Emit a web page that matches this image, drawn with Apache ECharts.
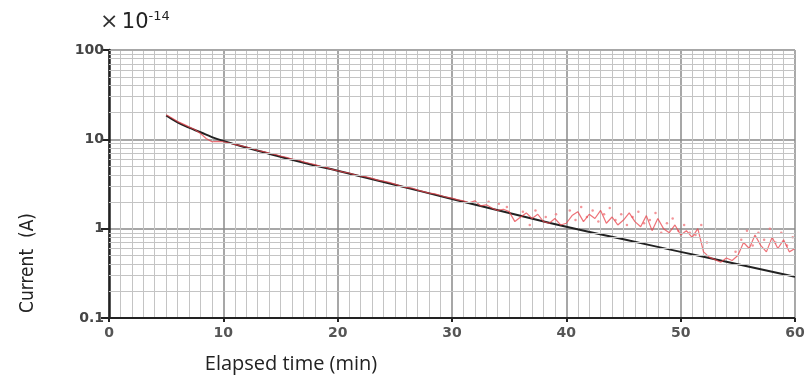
<!DOCTYPE html>
<html><head><meta charset="utf-8">
<script src="https://cdn.jsdelivr.net/npm/echarts@6/dist/echarts.min.js"></script>
<style>html,body{margin:0;padding:0;background:#fff}#c{width:809px;height:376px}</style>
</head><body><div id="c"></div>
<script>
// Measured current (x1e-14 A) vs elapsed time (min)
const measTime = [5,5.5,6,6.5,7,7.5,8,8.5,9,9.5,10,10.5,11,11.5,12,12.5,13,13.5,14,14.5,15,15.5,16,16.5,17,17.5,18,18.5,19,19.5,20,20.5,21,21.5,22,22.5,23,23.5,24,24.5,25,25.5,26,26.5,27,27.5,28,28.5,29,29.5,30,30.5,31,31.5,32,32.5,33,33.5,34,34.5,35,35.5,36,36.5,37,37.5,38,38.5,39,39.5,40,40.5,41,41.5,42,42.5,43,43.5,44,44.5,45,45.5,46,46.5,47,47.5,48,48.5,49,49.5,50,50.5,51,51.5,52,52.5,53,53.5,54,54.5,55,55.5,56,56.5,57,57.5,58,58.5,59,59.5,60];
const measCurrent = [18.8,17.3,15.8,14.8,13.8,12.9,11.6,10.2,9.4,9.5,9.4,9.1,8.8,8.5,8.2,7.9,7.5,7.3,7.0,6.8,6.5,6.3,6.0,5.9,5.6,5.4,5.2,5.0,4.85,4.6,4.45,4.3,4.2,4.0,3.9,3.8,3.65,3.5,3.4,3.3,3.15,3.0,2.9,2.85,2.7,2.6,2.5,2.45,2.35,2.25,2.2,2.1,2.05,1.95,2.05,1.8,1.85,1.7,1.6,1.65,1.55,1.2,1.35,1.5,1.3,1.45,1.2,1.15,1.3,1.1,1.15,1.4,1.55,1.2,1.45,1.3,1.6,1.15,1.35,1.1,1.25,1.5,1.2,1.05,1.4,0.95,1.3,1.0,0.9,1.1,0.85,0.95,0.8,1.0,0.55,0.48,0.45,0.42,0.47,0.44,0.5,0.7,0.6,0.85,0.65,0.55,0.8,0.6,0.75,0.55,0.6];
// Extra scattered noisy samples
const scatTime = [33.2,34.1,34.8,36.2,36.8,37.3,38.2,39.1,40.3,40.8,41.3,41.8,42.3,42.8,43.3,43.8,44.3,44.8,45.3,45.8,46.3,46.8,47.3,47.8,48.3,48.8,49.3,49.8,50.3,50.8,51.3,51.8,52.3,54.8,55.3,55.8,56.3,56.8,57.3,57.8,58.3,58.8,59.3,59.8];
const scatCurrent = [2.0,1.9,1.75,1.55,1.1,1.6,1.35,1.45,1.6,1.25,1.75,1.35,1.6,1.2,1.45,1.7,1.25,1.45,1.1,1.35,1.55,1.15,1.25,1.5,0.9,1.15,1.3,0.95,1.1,0.9,0.85,1.1,0.7,0.55,0.75,0.95,0.65,0.9,0.75,1.0,0.7,0.9,0.65,0.8];
// Fitted curve
const fitTime = [5,6,7,8,9,10,12,14,16,18,20,25,30,35,40,45,50,55,60];
const fitCurrent = [18.5,15.5,13.5,12,10.6,9.6,8.1,6.9,5.9,5.1,4.45,3.1,2.15,1.5,1.05,0.76,0.55,0.4,0.29];
// Axis ticks
const xTicks = [0,10,20,30,40,50,60];
const yTicks = [0.1,1,10,100];
const yMinorLines = [0.2,0.3,0.4,0.5,0.6,0.7,0.8,0.9,2,3,4,5,6,7,8,9,20,30,40,50,60,70,80,90];

const chart = echarts.init(document.getElementById('c'));
const zip = (a,b)=>a.map((v,i)=>[v,b[i]]);
chart.setOption({
  animation:false,
  grid:{left:109,right:14,top:50,bottom:58},
  xAxis:{type:'value',min:0,max:60,interval:10,
    axisLine:{show:true,onZero:false,lineStyle:{color:'#222',width:2}},
    axisTick:{show:true,length:4,lineStyle:{color:'#222',width:2}},
    axisLabel:{color:'#555',fontFamily:'DejaVu Sans',fontWeight:'bold',fontSize:14,margin:8,
      formatter:v=>xTicks.includes(v)?String(v):''},
    splitLine:{show:true,lineStyle:{color:'#8a8a8a',width:1.5}},
    minorTick:{show:false,splitNumber:10},
    minorSplitLine:{show:true,lineStyle:{color:'#c4c4c4',width:1}}
  },
  yAxis:{type:'log',logBase:10,min:0.1,max:100,
    axisLine:{show:true,onZero:false,lineStyle:{color:'#222',width:2.5}},
    axisTick:{show:true,length:8,lineStyle:{color:'#222',width:2}},
    axisLabel:{color:'#444',fontFamily:'DejaVu Sans',fontWeight:'bold',fontSize:14,margin:5,
      formatter:v=>{const t=yTicks.find(x=>Math.abs(x-v)/x<1e-6);return t===undefined?'':String(t);}},
    splitLine:{show:true,lineStyle:{color:'#8a8a8a',width:1.5}}
  },
  series:[
    {type:'line',data:[],silent:true,
      markLine:{silent:true,symbol:'none',label:{show:false},
        lineStyle:{color:'#c4c4c4',width:1,type:'solid'},
        data:yMinorLines.map(v=>({yAxis:v}))}},
    {type:'line',data:[],silent:true,
      markLine:{silent:true,symbol:'none',label:{show:false},
        lineStyle:{color:'#aaaaaa',width:1,type:'solid'},
        data:[{xAxis:60},{yAxis:100}]}},
    {name:'scatter',type:'scatter',data:zip(scatTime,scatCurrent),symbolSize:2.5,
      itemStyle:{color:'#f07a80',opacity:0.8},z:2},
    {name:'fit',type:'line',data:zip(fitTime,fitCurrent),smooth:true,showSymbol:false,
      lineStyle:{color:'#222',width:2},z:3},
    {name:'meas',type:'line',data:zip(measTime,measCurrent),showSymbol:false,
      lineStyle:{color:'#e8434b',width:1.2,opacity:0.75},z:4}
  ],
  graphic:[
    {type:'text',left:100,top:10,style:{text:'{a|×} {b|10}{c|-14}',
      rich:{a:{fontSize:22,fill:'#333',fontFamily:'DejaVu Sans'},
            b:{fontSize:21,fill:'#222',fontFamily:'DejaVu Sans'},
            c:{fontSize:13,fill:'#222',fontFamily:'DejaVu Sans',verticalAlign:'top',padding:[0,0,12,0]}}}},
    {type:'text',x:28,y:263,rotation:Math.PI/2,style:{text:'Current  (A)',fontSize:19,fill:'#222',
      fontFamily:'DejaVu Sans Condensed',align:'center',verticalAlign:'middle'}},
    {type:'text',x:291,y:364,style:{text:'Elapsed time (min)',fontSize:20,fill:'#222',
      fontFamily:'Open Sans',align:'center',verticalAlign:'middle'}}
  ]
});
</script></body></html>
